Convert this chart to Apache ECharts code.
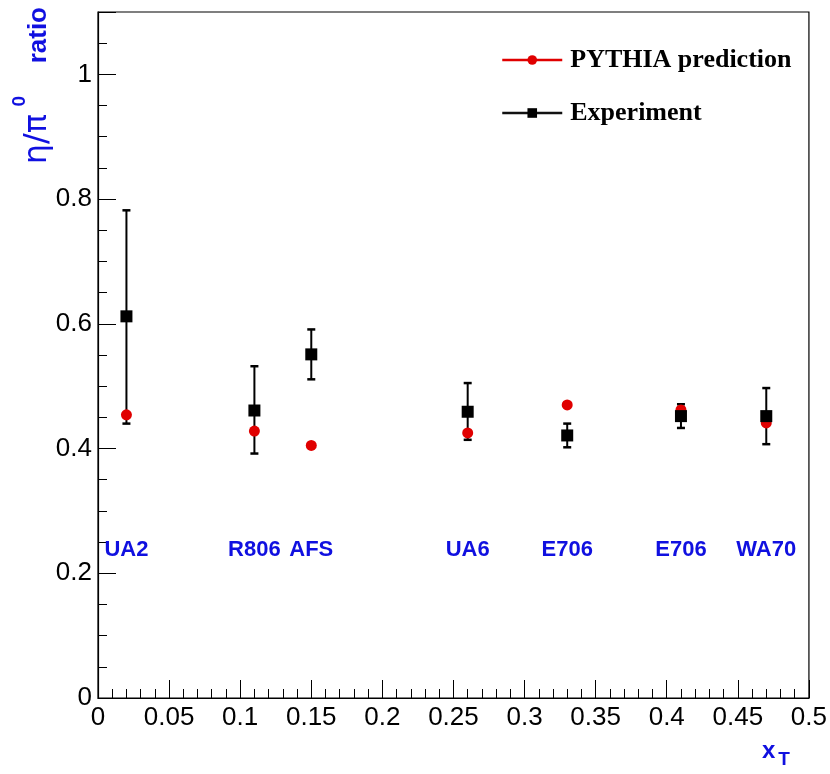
<!DOCTYPE html>
<html>
<head>
<meta charset="utf-8">
<script src="https://cdn.jsdelivr.net/npm/echarts@6/dist/echarts.min.js"></script>
<style>html,body{margin:0;padding:0;background:#fff;}#c{width:830px;height:774px;}</style>
</head>
<body>
<div id="c"></div>
<script>
// Data
var xT = [0.02, 0.11, 0.15, 0.26, 0.33, 0.41, 0.47];
var experimentNames = ['UA2', 'R806', 'AFS', 'UA6', 'E706', 'E706', 'WA70'];
var pythia = [0.454, 0.428, 0.405, 0.425, 0.470, 0.462, 0.441];
var experiment = [0.612, 0.461, 0.551, 0.459, 0.421, 0.452, 0.452];
var errLow = [0.440, 0.392, 0.511, 0.414, 0.402, 0.433, 0.407];
var errHigh = [0.782, 0.532, 0.591, 0.505, 0.440, 0.471, 0.497];
var labelY = 0.237;
var xTicks = [0, 0.05, 0.1, 0.15, 0.2, 0.25, 0.3, 0.35, 0.4, 0.45, 0.5];
var yTicks = [0, 0.2, 0.4, 0.6, 0.8, 1];

var chart = echarts.init(document.getElementById('c'), null, {renderer: 'canvas'});
var tickFont = '"Liberation Sans", Arial, sans-serif';
var blue = '#1010e0';

var pythiaData = xT.map(function (x, i) { return [x, pythia[i]]; });
var expData = xT.map(function (x, i) { return [x, experiment[i]]; });
var errData = xT.map(function (x, i) { return [x, errLow[i], errHigh[i]]; });
var labelData = xT.map(function (x, i) { return {value: [x, labelY], name: experimentNames[i]}; });

function fmtX(v) {
  for (var i = 0; i < xTicks.length; i++) if (Math.abs(v - xTicks[i]) < 1e-9) return String(xTicks[i]);
  return '';
}
function fmtY(v) {
  for (var i = 0; i < yTicks.length; i++) if (Math.abs(v - yTicks[i]) < 1e-9) return String(yTicks[i]);
  return '';
}

var option = {
  animation: false,
  backgroundColor: '#fff',
  grid: {left: 98, right: 21, top: 12, bottom: 76, show: true, borderColor: '#000', borderWidth: 1.2, backgroundColor: 'transparent'},
  xAxis: {
    type: 'value', min: 0, max: 0.5, interval: 0.05,
    axisLine: {show: true, onZero: false, lineStyle: {color: '#000', width: 1.2}},
    axisTick: {show: true, inside: true, length: 18, lineStyle: {color: '#000', width: 1}},
    minorTick: {show: true, splitNumber: 5, length: 9, lineStyle: {color: '#000', width: 1}},
    splitLine: {show: false},
    axisLabel: {color: '#000', fontSize: 26, fontFamily: tickFont, margin: 7, formatter: fmtX}
  },
  yAxis: {
    type: 'value', min: 0, max: 1.1, interval: 0.2,
    axisLine: {show: true, onZero: false, lineStyle: {color: '#000', width: 1.2}},
    axisTick: {show: true, inside: true, length: 18, lineStyle: {color: '#000', width: 1}},
    minorTick: {show: true, splitNumber: 4, length: 9, lineStyle: {color: '#000', width: 1}},
    splitLine: {show: false},
    axisLabel: {color: '#000', fontSize: 26, fontFamily: tickFont, margin: 6, formatter: fmtY}
  },
  legend: {
    orient: 'vertical', left: 496, top: 42,
    itemWidth: 60, itemHeight: 12, itemGap: 27,
    textStyle: {fontFamily: '"Liberation Serif", "Times New Roman", serif', fontWeight: 'bold', fontSize: 26, color: '#000', padding: [0, 0, 0, 3]},
    data: [
      {name: 'PYTHIA prediction', lineStyle: {opacity: 1, width: 2.5, color: '#e00000'}, itemStyle: {color: '#e00000'}},
      {name: 'Experiment', lineStyle: {opacity: 1, width: 2.5, color: '#111'}, itemStyle: {color: '#000'}}
    ]
  },
  graphic: [
    {
      type: 'text', x: 39, y: 7, rotation: Math.PI / 2,
      style: {text: 'ratio', align: 'right', verticalAlign: 'middle', fill: blue,
        fontSize: 26, fontWeight: 'bold', fontFamily: 'Liberation Sans, sans-serif'}
    },
    {
      type: 'text', x: 20, y: 96, rotation: Math.PI / 2,
      style: {text: '0', align: 'right', verticalAlign: 'middle', fill: blue,
        fontSize: 19, fontWeight: 'bold', fontFamily: 'Liberation Sans, sans-serif'}
    },
    {
      type: 'text', x: 38, y: 114, rotation: Math.PI / 2,
      style: {text: 'η/π', align: 'right', verticalAlign: 'middle', fill: blue,
        fontSize: 32, fontFamily: 'DejaVu Sans, sans-serif'}
    },
    {
      type: 'text', x: 762, y: 734,
      style: {
        text: '{x|x}{t|T}',
        fill: blue,
        rich: {
          x: {fontSize: 24, fontWeight: 'bold', fontFamily: 'Liberation Sans, sans-serif', fill: blue},
          t: {fontSize: 19, fontWeight: 'bold', fontFamily: 'Liberation Sans, sans-serif', fill: blue, padding: [16, 0, 0, 3]}
        }
      }
    }
  ],
  series: [
    {
      name: 'errors', type: 'custom', z: 2,
      renderItem: function (params, api) {
        var x = api.value(0);
        var lo = api.coord([x, api.value(1)]);
        var hi = api.coord([x, api.value(2)]);
        var cap = 4;
        return {
          type: 'group',
          children: [
            {type: 'line', shape: {x1: lo[0], y1: lo[1], x2: hi[0], y2: hi[1]}, style: {stroke: '#000', lineWidth: 2}},
            {type: 'line', shape: {x1: lo[0] - cap, y1: lo[1], x2: lo[0] + cap, y2: lo[1]}, style: {stroke: '#000', lineWidth: 2.5}},
            {type: 'line', shape: {x1: hi[0] - cap, y1: hi[1], x2: hi[0] + cap, y2: hi[1]}, style: {stroke: '#000', lineWidth: 2.5}}
          ]
        };
      },
      encode: {x: 0, y: [1, 2]},
      data: errData
    },
    {
      name: 'PYTHIA prediction', type: 'line', z: 3,
      symbol: 'circle', symbolSize: 11,
      itemStyle: {color: '#e00000'},
      lineStyle: {opacity: 0, width: 0},
      data: pythiaData
    },
    {
      name: 'Experiment', type: 'line', z: 4,
      symbol: 'rect', symbolSize: 12,
      itemStyle: {color: '#000'},
      lineStyle: {opacity: 0, width: 0},
      data: expData
    },
    {
      name: 'labels', type: 'scatter', z: 5,
      symbolSize: 0, silent: true,
      itemStyle: {opacity: 1},
      label: {
        show: true, position: 'inside', formatter: function (p) { return p.name; },
        color: blue, opacity: 1, fontSize: 22, fontWeight: 'bold', fontFamily: 'Liberation Sans, sans-serif',
        textBorderWidth: 0
      },
      data: labelData
    }
  ]
};
chart.setOption(option);
</script>
</body>
</html>
